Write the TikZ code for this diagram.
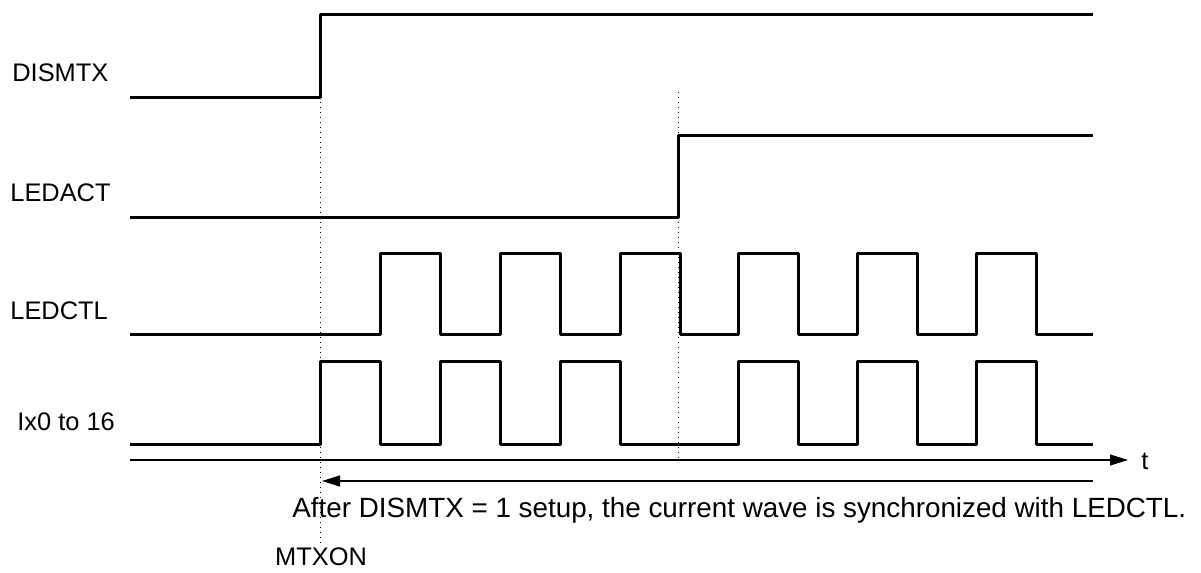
\documentclass[tikz,border=0pt]{standalone}
\usepackage{fontspec}
\setmainfont{Liberation Sans}
\usetikzlibrary{arrows.meta}
\tikzset{
  wave/.style={line width=1.5pt, line join=round},
  guide/.style={line width=0.5pt, dotted},
  axisline/.style={line width=0.6pt},
  sig/.style={anchor=west, inner sep=0pt}
}
\begin{document}
\begin{tikzpicture}[x=0.5pt,y=-0.5pt,font=\fontsize{12.7pt}{15pt}\selectfont]
\useasboundingbox (0,0) rectangle (1201,573);
% signal names
\node[sig] (dismtx) at (12,73) {DISMTX};
\node[sig] (ledact) at (10,193) {LEDACT};
\node[sig] (ledctl) at (10,311) {LEDCTL};
\node[sig] (ix) at (17,422) {Ix0 to 16};
% guides
\draw [guide](320,97) -- (320,545);
\draw [guide](678,92) -- (678,462);
% waves
\draw [wave](130,97) -- (320,97) -- (320,14) -- (1093,14);
\draw [wave](130,217) -- (678,217) -- (678,135) -- (1093,135);
\draw [wave](130,334) -- (380,334) |- (440,253) |- (500,334) |- (560,253) |- (620,334)
  |- (680,253) |- (738,334) |- (798,253) |- (857,334) |- (917,253) |- (976,334)
  |- (1036,253) |- (1093,334);
\draw [wave](130,444) -- (320,444) |- (380,361) |- (440,444) |- (500,361) |- (560,444)
  |- (620,361) |- (738,444) |- (798,361) |- (857,444) |- (917,361) |- (976,444)
  |- (1036,361) |- (1093,444);
% time axis
\coordinate (t0) at (130,460);
\coordinate (t1) at (1128,460);
\draw [axisline,-{Triangle[length=9pt,width=5.5pt]}](t0) -- (t1);
\node[sig] (tlabel) at (1141,461) {t};
% sync span
\coordinate (s0) at (322,481);
\coordinate (s1) at (1093,481);
\draw [axisline,{Triangle[length=9pt,width=5.5pt]}-](s0) -- (s1);
\node[sig,font=\fontsize{13.9pt}{16pt}\selectfont] (note) at (292,510) {After DISMTX = 1 setup, the current wave is synchronized with LEDCTL.};
\node (mtxon) at (321,557) {MTXON};
\end{tikzpicture}
\end{document}
